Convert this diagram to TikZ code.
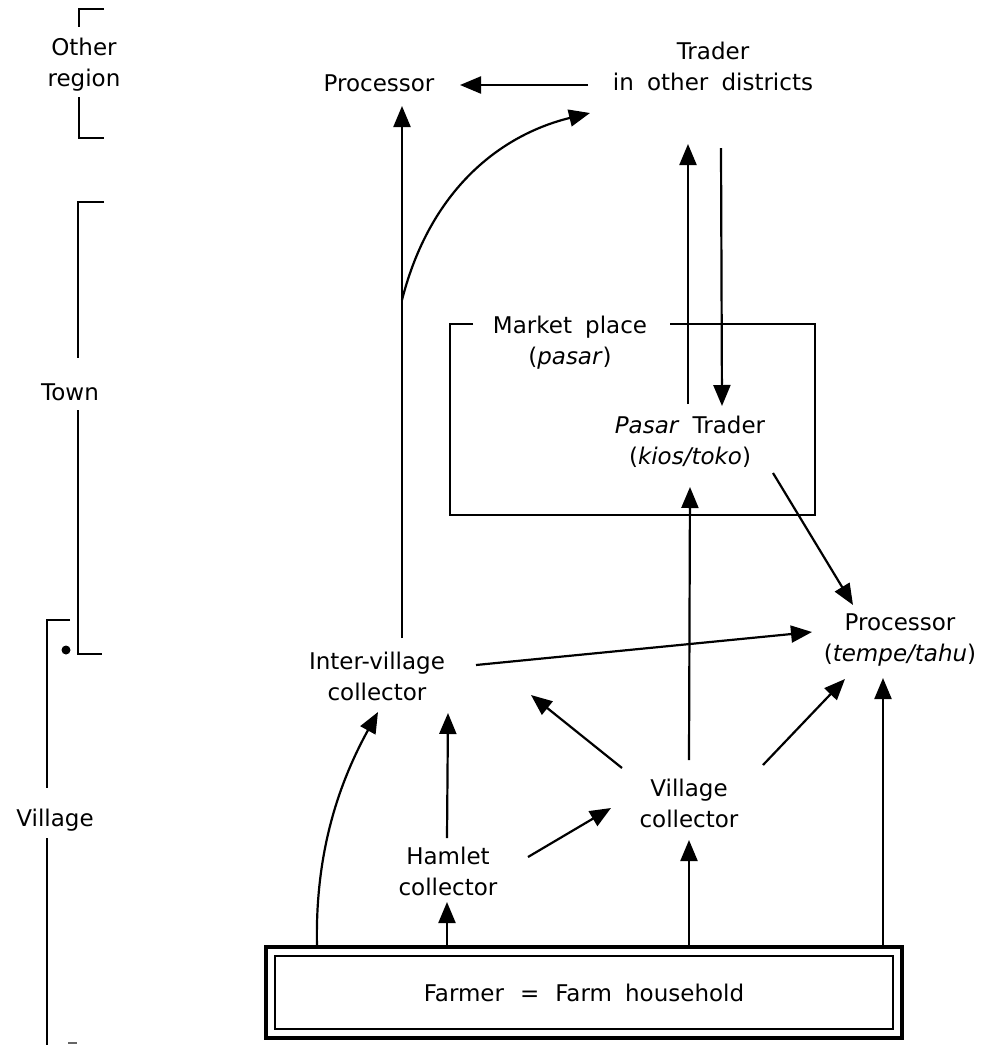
\documentclass[tikz,border=0pt]{standalone}
\usepackage{fontspec}
\setmainfont{DejaVu Sans}[WordSpace=1.8]
\usetikzlibrary{arrows.meta,calc}
\begin{document}
\begin{tikzpicture}[x=1pt,y=-1pt,
  lbl/.style={font=\fontsize{23}{31}\selectfont, align=center, inner sep=0pt},
  arr/.style={line width=2.2pt, -{Triangle[length=21pt,width=17pt]}},
  ln/.style={line width=2.2pt}]
\useasboundingbox[fill=white] (0,0) rectangle (985,1045);

% level labels and brackets
\node[lbl] (other) at (84,65) {Other\\region};
\node[lbl] (town) at (70,392) {Town};
\node[lbl] (vill) at (55,820) {Village};
\draw[ln] (104,9) -- (79,9) -- (79,27);
\draw[ln] (79,97) -- (79,138) -- (104,138);
\draw[ln] (104,202) -- (78,202) -- (78,358);
\draw[ln] (78,410) -- (78,654) -- (102,654);
\draw[ln] (70,620) -- (47,620) -- (47,788);
\draw[ln] (47,838) -- (47,1045);
\draw[line width=1.5pt, black!60] (68,1043) -- (77,1043);
\fill (66,650) circle (4.5pt);

% nodes
\node[lbl] (proc1) at (379,83) {Processor};
\node[lbl] (trader) at (713,66) {Trader\\in other districts};
\node[lbl] (market) at (570,343) {Market place\\(\textit{pasar})};
\node[lbl] (pasar) at (690,442) {\textit{Pasar} Trader\\(\textit{kios/toko})};
\node[lbl] (inter) at (377,676) {Inter-village\\collector};
\node[lbl] (proc2) at (900,640) {Processor\\(\textit{tempe/tahu})};
\node[lbl] (vcol) at (689,803) {Village\\collector};
\node[lbl] (hamlet) at (448,871) {Hamlet\\collector};
\node[lbl, draw, line width=3.5pt, outer sep=0pt, minimum width=636pt, minimum height=91pt] (farm) at (584,992.5) {\raisebox{-4pt}{Farmer\hspace{16pt}=\hspace{16pt}Farm household}};
\draw[line width=1.5pt] ($(farm.north west)+(9,9)$) rectangle ($(farm.south east)+(-9,-9)$);

% market place frame
\draw[ln] (473,324) -- (450,324) -- (450,515) -- (815,515) -- (815,324) -- (670,324);

% connectors
\draw[arr] ($(trader)+(-125,19)$) -- ($(proc1)+(81,2)$);
\draw[arr] ($(inter)+(25,-38)$) -- ($(proc1)+(23,23)$);
\draw[arr] ($(inter)+(25,-376)$) .. controls (430,190) and (500,135) .. ($(trader)+(-123,47)$);
\draw[arr] ($(pasar)+(-2,-38)$) -- ($(trader)+(-25,78)$);
\draw[arr] ($(trader)+(8,82)$) -- ($(pasar)+(32,-36)$);
\draw[arr] ($(vcol)+(0,-43)$) -- ($(pasar)+(0,45)$);
\draw[arr] ($(pasar)+(83,31)$) -- ($(proc2)+(-47,-35)$);
\draw[arr] ($(inter)+(99,-11)$) -- ($(proc2)+(-88,-8)$);
\draw[arr] ($(vcol)+(-67,-35)$) -- ($(inter)+(154,19)$);
\draw[arr] ($(vcol)+(74,-38)$) -- ($(proc2)+(-55,39)$);
\draw[arr] ($(hamlet)+(-1,-33)$) -- ($(inter)+(71,37)$);
\draw[arr] ($(hamlet)+(80,-14)$) -- ($(vcol)+(-78,5)$);
\draw[arr] ($(farm.north)+(-137,0)$) -- ($(hamlet)+(-1,31)$);
\draw[arr] ($(farm.north)+(105,0)$) -- ($(vcol)+(0,37)$);
\draw[arr] ($(farm.north)+(299,0)$) -- ($(proc2)+(-17,38)$);
\draw[arr] ($(farm.north)+(-267,0)$) .. controls (315,860) and (335,790) .. ($(inter)+(1,36)$);
\end{tikzpicture}
\end{document}
